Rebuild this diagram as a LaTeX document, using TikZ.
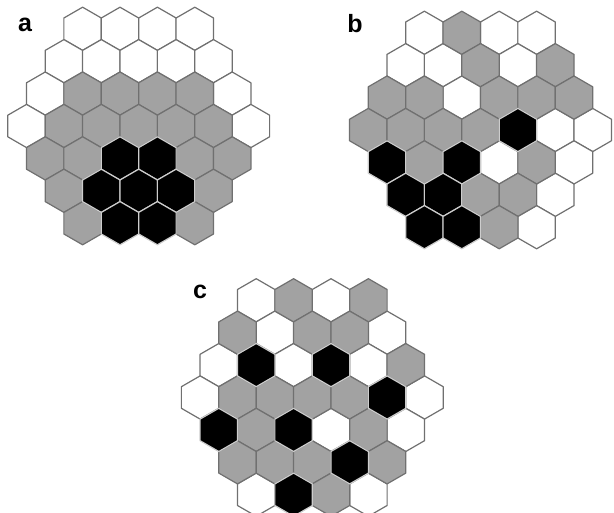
\documentclass[tikz,border=0pt]{standalone}
\usepackage{fontspec}
\setmainfont{Liberation Sans}
\definecolor{cellgray}{RGB}{162,162,162}
\definecolor{edgegray}{RGB}{112,112,112}
\definecolor{edgelight}{RGB}{205,205,205}
\tikzset{
  x=1pt, y=1pt,
  cell/.style={line width=1.2pt, line join=round},
  cw/.style={cell, fill=white, draw=edgegray},
  cg/.style={cell, fill=cellgray, draw=edgegray},
  ck/.style={cell, fill=black, draw=edgelight},
  panellabel/.style={font=\bfseries\fontsize{25}{25}\selectfont, inner sep=0pt, anchor=base}
}
% radius of a cell, horizontal pitch and row pitch
\def\R{21.6}
\def\S{37.4}
\def\P{32.4}
% \hexboard{centre x}{centre y}{rows of codes}{code drawn in this pass}
\newcommand\hexboard[4]{%
  \def\wantcode{#4}%
  \foreach \row [count=\r from -3] in {#3} {
    \pgfmathtruncatemacro\n{7-abs(\r)}
    \foreach \cc [count=\i from 0] in \row {
      \ifx\cc\wantcode
        \pgfmathsetmacro\hx{#1+(\i-(\n-1)/2)*\S}
        \pgfmathsetmacro\hy{#2-\r*\P}
        \path[c\cc] (\hx,\hy) +(30:\R) -- +(90:\R) -- +(150:\R) -- +(210:\R)
          -- +(270:\R) -- +(330:\R) -- cycle;
      \fi
    }
  }
}
\newcommand\fullboard[3]{%
  \hexboard{#1}{#2}{#3}{w}
  \hexboard{#1}{#2}{#3}{g}
  \hexboard{#1}{#2}{#3}{k}
}
\begin{document}
\begin{tikzpicture}
\useasboundingbox (0,0) rectangle (614,-513);
\begin{scope}
  \clip (0,0) rectangle (614,-513);
  % board a
  \fullboard{138.7}{-126}{
    {w,w,w,w},
    {w,w,w,w,w},
    {w,g,g,g,g,w},
    {w,g,g,g,g,g,w},
    {g,g,k,k,g,g},
    {g,k,k,k,g},
    {g,k,k,g}}
  % board b
  \fullboard{480.5}{-130}{
    {w,g,w,w},
    {w,w,g,w,g},
    {g,g,w,g,g,g},
    {g,g,g,g,k,w,w},
    {k,g,k,w,g,w},
    {k,k,g,g,w},
    {k,k,g,w}}
  % board c
  \fullboard{312.3}{-397.5}{
    {w,g,w,g},
    {g,w,g,g,w},
    {w,k,w,k,w,g},
    {w,g,g,g,g,k,w},
    {k,g,k,w,g,w},
    {g,g,g,k,g},
    {w,k,g,w}}
\end{scope}
\node[panellabel] (la) at (25,-32) {a};
\node[panellabel] (lb) at (355,-33) {b};
\node[panellabel] (lc) at (200,-299) {c};
\end{tikzpicture}
\end{document}
